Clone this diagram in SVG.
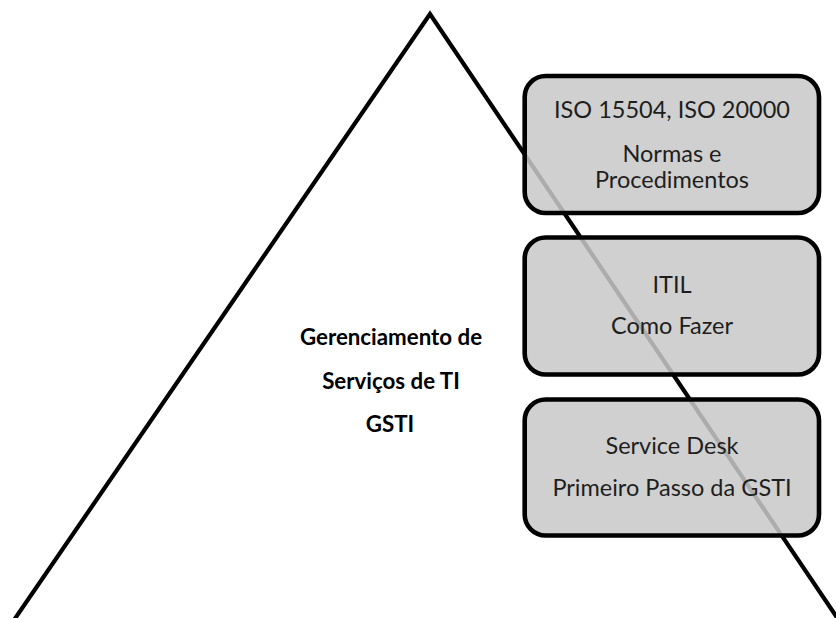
<svg xmlns="http://www.w3.org/2000/svg" width="836" height="618" viewBox="0 0 836 618">
  <style>
    .box { fill: rgb(200,200,200); fill-opacity: 0.86; stroke: #000; stroke-width: 4.6; }
    .lbl { font-family: Lato, "Liberation Sans", sans-serif; font-size: 23.5px; fill: #1e1e1e; text-anchor: middle; }
    .title { font-family: Lato, "Liberation Sans", sans-serif; font-size: 22.3px; font-weight: bold; fill: #000; text-anchor: middle; }
  </style>

  <!-- pyramid outline -->
  <g id="pyramid">
    <path d="M 14 620 L 430 14 L 840 622" fill="none" stroke="#000" stroke-width="4.2" stroke-linejoin="miter"/>
  </g>

  <!-- central title -->
  <g id="title">
    <text class="title" x="391" y="345">Gerenciamento de</text>
    <text class="title" x="391" y="389">Serviços de TI</text>
    <text class="title" x="390" y="432">GSTI</text>
  </g>

  <!-- layers -->
  <g id="layer-iso">
    <rect class="box" x="524.7" y="76" width="294.3" height="137" rx="21"/>
    <text class="lbl" x="672" y="118">ISO 15504, ISO 20000</text>
    <text class="lbl" x="672" y="161.5">Normas e</text>
    <text class="lbl" x="672" y="187.5">Procedimentos</text>
  </g>

  <g id="layer-itil">
    <rect class="box" x="524.7" y="237.5" width="294.3" height="137" rx="21"/>
    <text class="lbl" x="672" y="293">ITIL</text>
    <text class="lbl" x="672" y="334">Como Fazer</text>
  </g>

  <g id="layer-servicedesk">
    <rect class="box" x="524.7" y="399.5" width="294.3" height="136" rx="21"/>
    <text class="lbl" x="672" y="454">Service Desk</text>
    <text class="lbl" x="672" y="496">Primeiro Passo da GSTI</text>
  </g>

  <!-- no connectors in this figure -->
  <g id="connectors"/>
</svg>
